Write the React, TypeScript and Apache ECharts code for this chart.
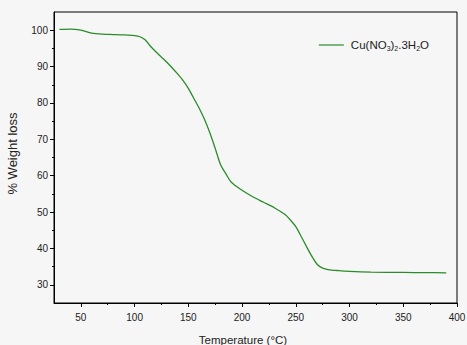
import React, { useEffect, useRef } from "react";
import * as echarts from "echarts";

const temperature = [30, 40, 50, 60, 70, 80, 90, 100, 105, 110, 115, 120, 130, 140, 145, 150, 155, 160, 165, 170, 175, 180, 185, 190, 200, 210, 220, 230, 240, 245, 250, 255, 260, 265, 270, 275, 280, 290, 300, 320, 350, 370, 390];
const weight = [100.2, 100.3, 100.0, 99.2, 98.9, 98.8, 98.7, 98.5, 98.2, 97.3, 95.5, 94.0, 91.2, 88.0, 86.2, 84.0, 81.3, 78.6, 75.5, 71.8, 67.5, 63.0, 60.5, 58.2, 56.0, 54.2, 52.7, 51.2, 49.3, 47.8, 46.0, 43.3, 40.5, 37.8, 35.6, 34.6, 34.2, 33.9, 33.7, 33.5, 33.4, 33.35, 33.3];
const xMajorTicks = [50, 100, 150, 200, 250, 300, 350, 400];
const xMinorTicks = [75, 125, 175, 225, 275, 325, 375];
const yMajorTicks = [30, 40, 50, 60, 70, 80, 90, 100];
const yMinorTicks = [35, 45, 55, 65, 75, 85, 95];
const seriesName = "Cu(NO3)2.3H2O";

export default function App() {
  const ref = useRef<HTMLDivElement>(null);
  useEffect(() => {
    if (!ref.current) return;
    const chart = echarts.init(ref.current, null, { renderer: "svg" });
    const font = "Liberation Sans, Arial, sans-serif";
    const labelStyle = { color: "#222", fontSize: 10, fontFamily: font };
    chart.setOption({
      animation: false,
      backgroundColor: "#f6f6f6",
      grid: {
        left: 54,
        top: 12,
        right: 10,
        bottom: 42,
        containLabel: false,
        outerBoundsMode: "none",
        show: true,
        borderColor: "#000",
        borderWidth: 1,
        backgroundColor: "transparent",
      },
      legend: {
        right: 33,
        top: 33,
        itemWidth: 25,
        itemHeight: 10,
        itemGap: 6,
        icon: "path://M0,4.4 L25,4.4 L25,5.6 L0,5.6 Z",
        data: [{ name: seriesName }],
        formatter: () => "{a|Cu(NO}{s|3}{a|)}{s|2}{a|.3H}{s|2}{a|O}",
        textStyle: {
          fontFamily: font,
          color: "#222",
          padding: [0, 0, 0, 2],
          rich: {
            a: { fontSize: 11.5, fontFamily: font, color: "#222", lineHeight: 14, verticalAlign: "middle" },
            s: { fontSize: 7, fontFamily: font, color: "#222", lineHeight: 14, verticalAlign: "bottom", padding: [7, 0, 0, 0] },
          },
        },
      },
      xAxis: [
        {
          type: "value",
          min: 25,
          max: 400,
          name: "Temperature (°C)",
          nameLocation: "middle",
          nameGap: 31,
          nameTextStyle: { color: "#222", fontSize: 11.5, fontFamily: font, padding: [0, 25, 0, 0] },
          axisLine: { show: true, onZero: false, lineStyle: { color: "#000", width: 1 } },
          axisTick: { show: true, inside: false, length: 4, customValues: xMajorTicks, lineStyle: { color: "#000" } },
          axisLabel: { ...labelStyle, margin: 9, customValues: xMajorTicks },
          splitLine: { show: false },
        },
        {
          type: "value",
          min: 25,
          max: 400,
          position: "bottom",
          axisLine: { show: false },
          axisTick: { show: true, inside: false, length: 2, customValues: xMinorTicks, lineStyle: { color: "#000" } },
          axisLabel: { show: false },
          splitLine: { show: false },
        },
      ],
      yAxis: [
        {
          type: "value",
          min: 25,
          max: 105,
          name: "% Weight loss",
          nameLocation: "middle",
          nameGap: 35,
          nameTextStyle: { color: "#222", fontSize: 13, fontFamily: font, padding: [0, 0, 0, 8] },
          axisLine: { show: true, onZero: false, lineStyle: { color: "#000", width: 1 } },
          axisTick: { show: true, inside: false, length: 4, customValues: yMajorTicks, lineStyle: { color: "#000" } },
          axisLabel: { ...labelStyle, margin: 6, customValues: yMajorTicks },
          splitLine: { show: false },
        },
        {
          type: "value",
          min: 25,
          max: 105,
          position: "left",
          axisLine: { show: false },
          axisTick: { show: true, inside: false, length: 2, customValues: yMinorTicks, lineStyle: { color: "#000" } },
          axisLabel: { show: false },
          splitLine: { show: false },
        },
      ],
      series: [
        {
          name: seriesName,
          type: "line",
          xAxisIndex: 0,
          yAxisIndex: 0,
          data: temperature.map((t, i) => [t, weight[i]]),
          showSymbol: false,
          smooth: 0.3,
          lineStyle: { color: "#2a8c2a", width: 1.3 },
          itemStyle: { color: "#2a8c2a" },
        },
      ],
    });
    return () => chart.dispose();
  }, []);
  return <div ref={ref} style={{ position: "fixed", left: 0, top: 0, width: 467, height: 345 }} />;
}
